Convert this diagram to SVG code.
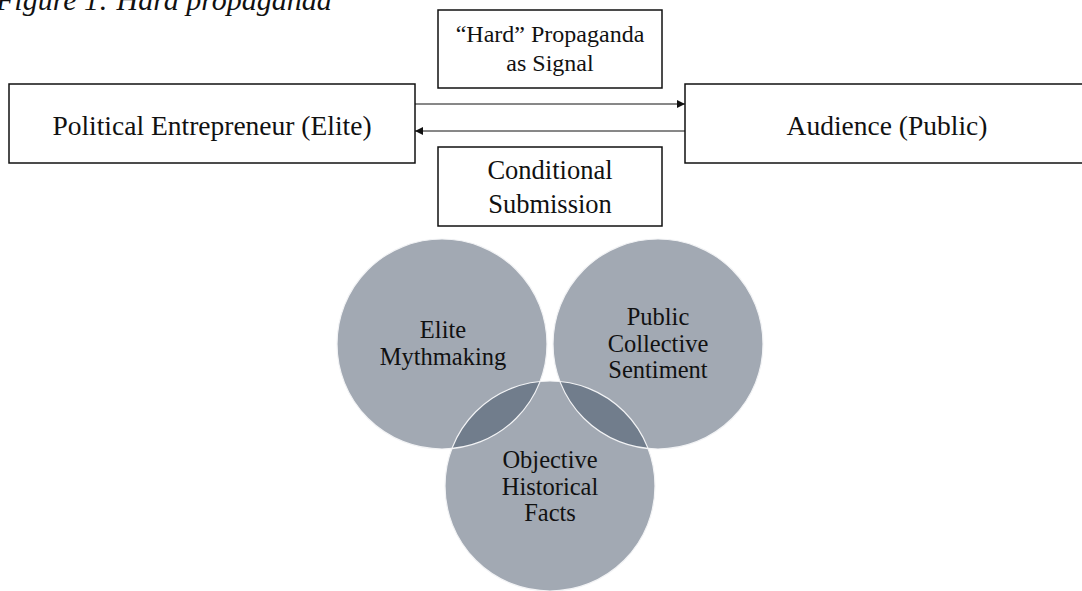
<svg xmlns="http://www.w3.org/2000/svg" width="1082" height="591" viewBox="0 0 1082 591">
<style>
.t{font-family:"Liberation Serif","Times New Roman",serif;fill:#111;text-anchor:middle}
.box{fill:#fff;stroke:#111;stroke-width:1.5}
.c{fill:#a2a9b3}
.lens{fill:#717d8c}
.ring{fill:none;stroke:#f2f3f5;stroke-width:1.2}
.ln{stroke:#111;stroke-width:1;fill:none}
</style>
<defs>
<marker id="ah" viewBox="0 0 10 10" refX="10" refY="5" markerWidth="8" markerHeight="8" markerUnits="userSpaceOnUse" orient="auto">
<path d="M0,0 L10,5 L0,10 z" fill="#111"/>
</marker>
<clipPath id="cpB"><circle cx="550" cy="486" r="105"/></clipPath>
</defs>
<text x="-4" y="10" font-family="Liberation Serif, serif" font-style="italic" font-size="30" fill="#111">Figure 1: Hard propaganda</text>

<g id="conn">
<line class="ln" x1="415" y1="104" x2="685" y2="104" marker-end="url(#ah)"/>
<line class="ln" x1="685" y1="131" x2="415" y2="131" marker-end="url(#ah)"/>
</g>

<g id="elite">
<rect class="box" x="9" y="84" width="406" height="79"/>
<text class="t" x="212" y="135" font-size="27.5">Political Entrepreneur (Elite)</text>
</g>
<g id="audience">
<rect class="box" x="685" y="84" width="400" height="79"/>
<text class="t" x="887" y="135" font-size="27.5">Audience (Public)</text>
</g>
<g id="signal">
<rect class="box" x="438" y="10" width="224" height="78"/>
<text class="t" font-size="24"><tspan x="550" y="42">“Hard” Propaganda</tspan><tspan x="550" y="71">as Signal</tspan></text>
</g>
<g id="submission">
<rect class="box" x="438" y="147" width="224" height="79"/>
<text class="t" font-size="26.5"><tspan x="550" y="179">Conditional</tspan><tspan x="550" y="213">Submission</tspan></text>
</g>

<g id="venn">
<g id="mythmaking">
<circle class="c" cx="442" cy="344" r="105"/>
</g>
<g id="sentiment">
<circle class="c" cx="658" cy="344" r="105"/>
</g>
<g id="facts">
<circle class="c" cx="550" cy="486" r="105"/>
</g>
<g clip-path="url(#cpB)">
<circle class="lens" cx="442" cy="344" r="105"/>
<circle class="lens" cx="658" cy="344" r="105"/>
</g>
<circle class="ring" cx="442" cy="344" r="105"/>
<circle class="ring" cx="658" cy="344" r="105"/>
<circle class="ring" cx="550" cy="486" r="105"/>
<text class="t" font-size="24.5"><tspan x="443" y="338">Elite</tspan><tspan x="443" y="365">Mythmaking</tspan></text>
<text class="t" font-size="24.5"><tspan x="658" y="325">Public</tspan><tspan x="658" y="352">Collective</tspan><tspan x="658" y="378">Sentiment</tspan></text>
<text class="t" font-size="24.5"><tspan x="550" y="468">Objective</tspan><tspan x="550" y="495">Historical</tspan><tspan x="550" y="521">Facts</tspan></text>
</g>
</svg>
